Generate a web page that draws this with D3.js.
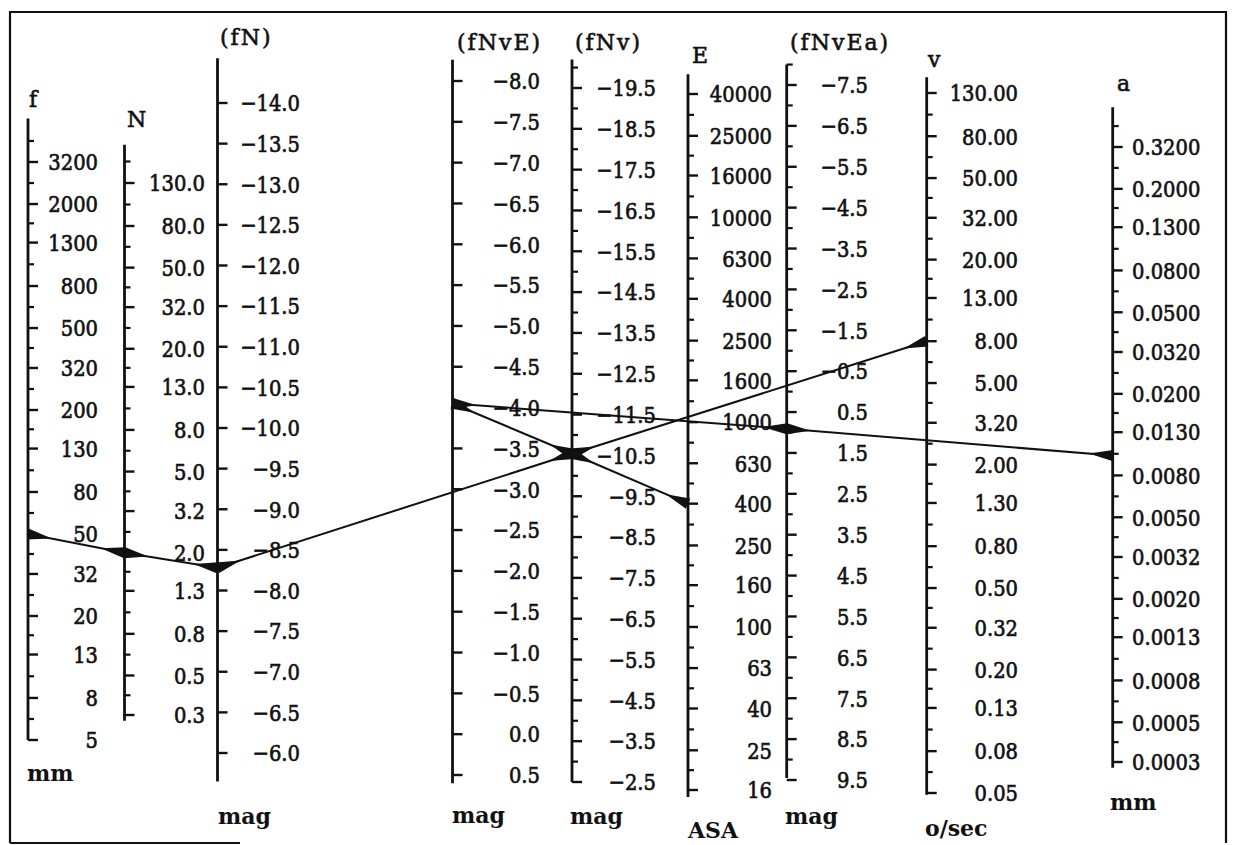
<!DOCTYPE html>
<html><head><meta charset="utf-8">
<script src="https://cdn.jsdelivr.net/npm/d3@7"></script>
<style>body{margin:0;background:#fff}svg{display:block}</style>
</head><body><svg id="c" width="1235" height="845"></svg>
<script>
// ---------------- data ----------------
const fValues      = [5,8,13,20,32,50,80,130,200,320,500,800,1300,2000,3200];
const nValues      = [0.32,0.5,0.8,1.3,2,3.2,5,8,13,20,32,50,80,130];
const fnValues     = [-14,-13.5,-13,-12.5,-12,-11.5,-11,-10.5,-10,-9.5,-9,-8.5,-8,-7.5,-7,-6.5,-6];
const fnveValues   = [-8,-7.5,-7,-6.5,-6,-5.5,-5,-4.5,-4,-3.5,-3,-2.5,-2,-1.5,-1,-0.5,0,0.5];
const fnvValues    = [-19.5,-18.5,-17.5,-16.5,-15.5,-14.5,-13.5,-12.5,-11.5,-10.5,-9.5,-8.5,-7.5,-6.5,-5.5,-4.5,-3.5,-2.5];
const eValues      = [16,25,40,63,100,160,250,400,630,1000,1600,2500,4000,6300,10000,16000,25000,40000];
const fnveaValues  = [-7.5,-6.5,-5.5,-4.5,-3.5,-2.5,-1.5,-0.5,0.5,1.5,2.5,3.5,4.5,5.5,6.5,7.5,8.5,9.5];
const vValues      = [0.05,0.08,0.13,0.2,0.32,0.5,0.8,1.3,2,3.2,5,8,13,20,32,50,80,130];
const aValues      = [0.00032,0.0005,0.0008,0.0013,0.002,0.0032,0.005,0.008,0.013,0.02,0.032,0.05,0.08,0.13,0.2,0.32];

// axis titles and units
const axisNames  = ["f","N","(fN)","(fNvE)","(fNv)","E","(fNvEa)","v","a"];
const axisUnits  = ["mm","","mag","mag","mag","ASA","mag","o/sec","mm"];

// worked example read on each scale
const solution = {f:50, N:2.0, fN:-8.28, fNv:-10.54, v:8, E:400, fNvE:-4.05, fNvEa:0.91, a:0.01};
const segments = [["f","N"],["N","fN"],["fN","fNv"],["fNv","v"],["E","fNv"],["fNv","fNvE"],["fNvE","fNvEa"],["fNvEa","a"]];

// ---------------- layout ----------------
const svg = d3.select("#c");
const INK = "#111";
const fmt = (p) => d3.format("." + p + "f");

const axes = [
  {key:"f",     vals:fValues,     log:true,  x:28,  dom:[5,3200],      rng:[740,162], ext:[5,5200],      lx:98,   anchor:"end",   f:fmt(0), title:[29,107],  unit:[27,781],  minor:true},
  {key:"N",     vals:nValues,     log:true,  x:124.5,dom:[0.32,130],   rng:[715,183], ext:[0.3,200],     lx:205,  anchor:"end",   f:fmt(1), title:[127,127], unit:null,      minor:true},
  {key:"fN",    vals:fnValues,    log:false, x:217.5,dom:[-14,-6],     rng:[103,753], ext:[-14.55,-5.65],lx:300,  anchor:"end",   f:fmt(1), title:[220,45],  unit:[218,824], minor:false},
  {key:"fNvE",  vals:fnveValues,  log:false, x:452.5,dom:[-8,0.5],     rng:[81,775],  ext:[-8.26,0.6],   lx:540,  anchor:"end",   f:fmt(1), title:[457,50],  unit:[452,823], minor:false},
  {key:"fNv",   vals:fnvValues,   log:false, x:572, dom:[-19.5,-2.5],  rng:[88,782],  ext:[-20.2,-2.5],  lx:656,  anchor:"end",   f:fmt(1), title:[575,50],  unit:[570,824], minor:true},
  {key:"E",     vals:eValues,     log:true,  x:688, dom:[16,40000],    rng:[790,94],  ext:[14.8,50000],  lx:772,  anchor:"end",   f:fmt(0), title:[692,63],  unit:[688,838], minor:true},
  {key:"fNvEa", vals:fnveaValues, log:false, x:786.7,dom:[-7.5,9.5],   rng:[85,780],  ext:[-8,9.45],     lx:868,  anchor:"end",   f:fmt(1), title:[790,50],  unit:[785,824], minor:true},
  {key:"v",     vals:vValues,     log:true,  x:926.7,dom:[0.05,130],   rng:[793,93],  ext:[0.049,155],   lx:1018, anchor:"end",   f:fmt(2), title:[928,67],  unit:[925,836], minor:true},
  {key:"a",     vals:aValues,     log:true,  x:1112.7,dom:[0.00032,0.32],rng:[762,147],ext:[0.0003,0.5],  lx:1132, anchor:"start", f:fmt(4), title:[1117,91], unit:[1110,810], minor:true}
];
axes.forEach((a,i)=>{
  a.scale = (a.log ? d3.scaleLog() : d3.scaleLinear()).domain(a.dom).range(a.rng);
  a.name = axisNames[i]; a.unitText = axisUnits[i];
});
const axisByKey = Object.fromEntries(axes.map(a=>[a.key,a]));

function minorTicks(a){
  const v = a.vals, out = [];
  for (let i=0;i<v.length-1;i++) out.push(a.log ? Math.sqrt(v[i]*v[i+1]) : (v[i]+v[i+1])/2);
  const lo = Math.min(...a.ext), hi = Math.max(...a.ext);
  const n = v.length;
  const before = a.log ? v[0]/Math.sqrt(v[1]/v[0]) : v[0]-(v[1]-v[0])/2;
  const after  = a.log ? v[n-1]*Math.sqrt(v[n-1]/v[n-2]) : v[n-1]+(v[n-1]-v[n-2])/2;
  if (before>=lo && before<=hi) out.push(before);
  if (after>=lo && after<=hi) out.push(after);
  return out;
}

// frame
svg.append("path")
  .attr("d","M10,843 V12 H1226 V843")
  .attr("fill","none").attr("stroke",INK).attr("stroke-width",2.2);
svg.append("line").attr("x1",10).attr("x2",240).attr("y1",843).attr("y2",843)
  .attr("stroke",INK).attr("stroke-width",2.2);

const labelFont = "'DejaVu Serif', serif";

axes.forEach(a=>{
  const g = svg.append("g");
  const y0 = a.scale(a.ext[0]), y1 = a.scale(a.ext[1]);
  g.append("line").attr("x1",a.x).attr("x2",a.x).attr("y1",y0).attr("y2",y1)
    .attr("stroke",INK).attr("stroke-width",2.8);
  // major ticks
  g.selectAll(".mj").data(a.vals).join("line")
    .attr("x1",a.x).attr("x2",a.x+10)
    .attr("y1",d=>a.scale(d)).attr("y2",d=>a.scale(d))
    .attr("stroke",INK).attr("stroke-width",2.4);
  if (a.minor){
    g.selectAll(".mn").data(minorTicks(a)).join("line")
      .attr("x1",a.x).attr("x2",a.x+6)
      .attr("y1",d=>a.scale(d)).attr("y2",d=>a.scale(d))
      .attr("stroke",INK).attr("stroke-width",2.2);
  }
  // tick labels
  g.selectAll(".lb").data(a.vals).join("g")
    .attr("transform",d=>`translate(${a.lx},${a.scale(d)})`)
    .append("text")
    .attr("transform","scale(0.85,1)")
    .attr("text-anchor",a.anchor)
    .attr("dy","0.36em")
    .attr("font-family",labelFont)
    .attr("font-size",23)
    .attr("fill",INK).attr("stroke",INK).attr("stroke-width",0.7)
    .text(d=>a.f(d));
  // title
  svg.append("text").attr("x",a.title[0]).attr("y",a.title[1])
    .attr("font-family",labelFont).attr("font-size",22)
    .attr("letter-spacing", a.name.length>1 ? 2 : 0)
    .attr("fill",INK).attr("stroke",INK).attr("stroke-width",0.6).text(a.name);
  if (a.unit && a.unitText){
    svg.append("text").attr("x",a.unit[0]).attr("y",a.unit[1])
      .attr("font-family",labelFont).attr("font-size",22).attr("font-weight","bold")
      .attr("fill",INK).text(a.unitText);
  }
});

// solution lines with wedge markers at both ends
function pt(k){ const a = axisByKey[k]; return [a.x, a.scale(solution[k])]; }
const lineG = svg.append("g");
segments.forEach(([p,q])=>{
  const P = pt(p), Q = pt(q);
  lineG.append("line").attr("x1",P[0]).attr("y1",P[1]).attr("x2",Q[0]).attr("y2",Q[1])
    .attr("stroke",INK).attr("stroke-width",2);
  [[P,Q],[Q,P]].forEach(([A,B])=>{
    const dx=B[0]-A[0], dy=B[1]-A[1], L=Math.hypot(dx,dy);
    const ux=dx/L, uy=dy/L, nx=-uy, ny=ux, hw=5.5, len=24;
    lineG.append("path")
      .attr("d",`M${A[0]+nx*hw},${A[1]+ny*hw} L${A[0]-nx*hw},${A[1]-ny*hw} L${A[0]+ux*len},${A[1]+uy*len} Z`)
      .attr("fill",INK);
  });
});
</script></body></html>
